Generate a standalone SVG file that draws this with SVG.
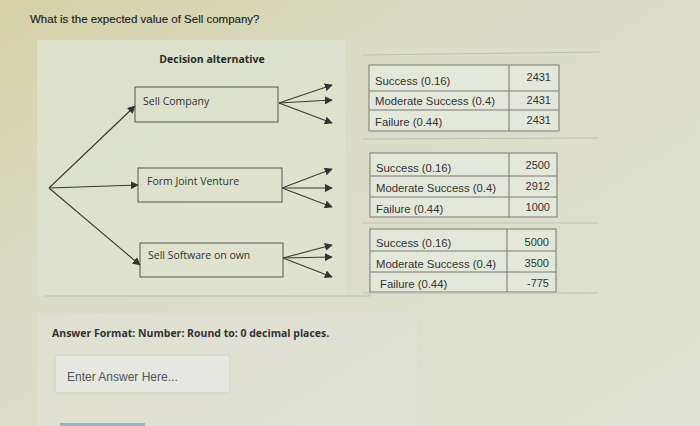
<svg xmlns="http://www.w3.org/2000/svg" width="700" height="426" viewBox="0 0 700 426">
<defs>
<linearGradient id="bg" x1="0" y1="0" x2="1" y2="1">
<stop offset="0" stop-color="#d4d1a6"/>
<stop offset="0.35" stop-color="#dadcc4"/>
<stop offset="1" stop-color="#e0e2d6"/>
</linearGradient>
<marker id="ah" viewBox="0 0 10 10" refX="9" refY="5" markerWidth="8" markerHeight="8" markerUnits="userSpaceOnUse" orient="auto">
<path d="M0,0 L10,5 L0,10 z" fill="#333"/>
</marker>
<style>
.q{font-family:"Liberation Sans",Arial,sans-serif;font-size:11.5px;fill:#222;stroke:#222;stroke-width:0.15}
.lbl{font-family:"Open Sans","Liberation Sans",sans-serif;font-size:10.5px;fill:#333}
.hd{font-family:"Open Sans","Liberation Sans",sans-serif;font-size:10.5px;font-weight:bold;fill:#2a2a2a}
.box{fill:none;stroke:#555;stroke-width:1}
.cn{stroke:#3a3a3a;stroke-width:1.1;fill:none;marker-end:url(#ah)}
.tb{fill:none;stroke:#777;stroke-width:1}
.tt{font-family:"Liberation Sans",Arial,sans-serif;font-size:11.3px;fill:#333}
.tv{font-family:"Liberation Sans",Arial,sans-serif;font-size:11px;fill:#333;text-anchor:end}
.sep{stroke:#bfc2b4;stroke-width:1}
.af{font-family:"Open Sans","Liberation Sans",sans-serif;font-size:10.5px;font-weight:bold;fill:#333}
</style>
</defs>
<rect width="700" height="426" fill="url(#bg)"/>
<rect x="37" y="40" width="308" height="256" fill="#dfe3cf" opacity="0.8"/>
<rect x="37" y="313" width="380" height="113" fill="#e2e3da" opacity="0.6"/>
<line class="sep" x1="45" y1="296" x2="370" y2="296"/>
<line class="sep" x1="370" y1="283" x2="370" y2="296"/>
<text class="q" x="30" y="23">What is the expected value of Sell company?</text>
<text class="hd" x="212" y="63" text-anchor="middle">Decision alternative</text>

<g id="connectors">
<line class="cn" x1="49" y1="188" x2="135" y2="106"/>
<line class="cn" x1="49" y1="188" x2="138" y2="185"/>
<line class="cn" x1="49" y1="188" x2="140" y2="265"/>
<line class="cn" x1="279" y1="103" x2="332" y2="85"/>
<line class="cn" x1="279" y1="103" x2="332" y2="100"/>
<line class="cn" x1="279" y1="103" x2="332" y2="123"/>
<line class="cn" x1="282" y1="188" x2="332" y2="169"/>
<line class="cn" x1="282" y1="188" x2="332" y2="188"/>
<line class="cn" x1="282" y1="188" x2="332" y2="207"/>
<line class="cn" x1="283" y1="258" x2="332" y2="245"/>
<line class="cn" x1="283" y1="258" x2="332" y2="257"/>
<line class="cn" x1="283" y1="258" x2="332" y2="277"/>
</g>

<g id="sell-company">
<rect class="box" x="135" y="87" width="143" height="35"/>
<text class="lbl" x="143" y="105">Sell Company</text>
</g>
<g id="form-joint-venture">
<rect class="box" x="138" y="168" width="144" height="34"/>
<text class="lbl" x="147" y="185">Form Joint Venture</text>
</g>
<g id="sell-software">
<rect class="box" x="140" y="243" width="143" height="34"/>
<text class="lbl" x="148" y="259">Sell Software on own</text>
</g>

<line class="sep" x1="363" y1="55" x2="600" y2="52"/>
<g id="table-sell-company">
<rect x="369" y="65" width="190" height="66" fill="#e4e8da"/>
<rect class="tb" x="369" y="65" width="190" height="66"/>
<line class="tb" x1="509" y1="65" x2="509" y2="131"/>
<line class="tb" x1="369" y1="91" x2="559" y2="91"/>
<line class="tb" x1="369" y1="110" x2="559" y2="110"/>
<text class="tt" x="375" y="85">Success (0.16)</text>
<text class="tt" x="375" y="105">Moderate Success (0.4)</text>
<text class="tt" x="375" y="126">Failure (0.44)</text>
<text class="tv" x="551" y="81">2431</text>
<text class="tv" x="551" y="104">2431</text>
<text class="tv" x="551" y="124">2431</text>
</g>
<line class="sep" x1="363" y1="139" x2="598" y2="138"/>
<g id="table-joint-venture">
<rect x="370" y="153" width="187" height="64" fill="#e4e8da"/>
<rect class="tb" x="370" y="153" width="187" height="64"/>
<line class="tb" x1="509" y1="153" x2="509" y2="217"/>
<line class="tb" x1="370" y1="176" x2="557" y2="176"/>
<line class="tb" x1="370" y1="197" x2="557" y2="197"/>
<text class="tt" x="376" y="172">Success (0.16)</text>
<text class="tt" x="376" y="192">Moderate Success (0.4)</text>
<text class="tt" x="376" y="213">Failure (0.44)</text>
<text class="tv" x="550" y="169">2500</text>
<text class="tv" x="550" y="190">2912</text>
<text class="tv" x="550" y="211">1000</text>
</g>
<line class="sep" x1="363" y1="223" x2="598" y2="223"/>
<g id="table-sell-software">
<rect x="370" y="229" width="186" height="63" fill="#e4e8da"/>
<rect class="tb" x="370" y="229" width="186" height="63"/>
<line class="tb" x1="507" y1="229" x2="507" y2="292"/>
<line class="tb" x1="370" y1="251" x2="556" y2="251"/>
<line class="tb" x1="370" y1="272" x2="556" y2="272"/>
<text class="tt" x="376" y="247">Success (0.16)</text>
<text class="tt" x="376" y="268">Moderate Success (0.4)</text>
<text class="tt" x="380" y="288">Failure (0.44)</text>
<text class="tv" x="549" y="246">5000</text>
<text class="tv" x="549" y="267">3500</text>
<text class="tv" x="549" y="287">-775</text>
</g>
<line class="sep" x1="363" y1="293" x2="598" y2="293"/>

<text class="af" x="52" y="337">Answer Format: Number: Round to: 0 decimal places.</text>
<g id="answer-input">
<rect x="55" y="355" width="175" height="38" fill="#e6e7e0" stroke="#cfd0c8" stroke-width="1" rx="2"/>
<text x="67" y="381" font-family="Liberation Sans,Arial,sans-serif" font-size="12" fill="#555">Enter Answer Here...</text>
</g>
<rect x="60" y="423" width="85" height="3" fill="#9bb3cf"/>
</svg>
